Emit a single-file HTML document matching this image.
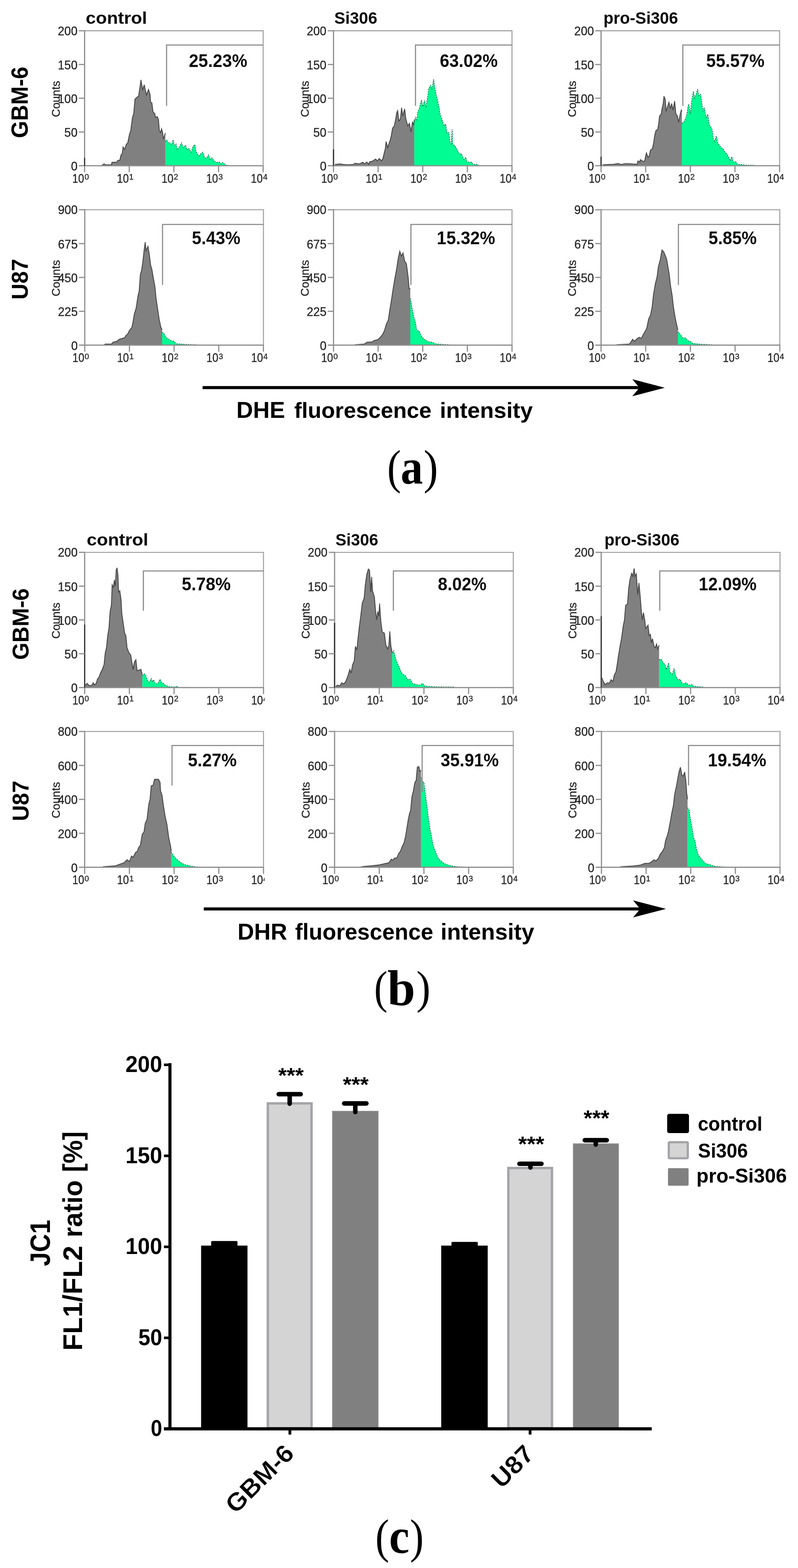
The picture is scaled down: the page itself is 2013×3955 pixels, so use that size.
<!DOCTYPE html>
<html lang="en"><head><meta charset="utf-8"><title>Figure</title>
<style>html,body{margin:0;padding:0;background:#fff}body{width:2013px;height:3955px;overflow:hidden}svg{display:block}</style>
</head><body>
<svg width="2013" height="3955" viewBox="0 0 2013 3955" font-family='"Liberation Sans", Arial, Helvetica, sans-serif'>
<defs><clipPath id="cl4"><rect x="-2" y="-30" width="6.2" height="40"/></clipPath></defs>
<rect width="2013" height="3955" fill="#fff"/>
<g>
<g id="p-a1">
<polygon points="256.4,417.5 256.4,417.4 262.5,413.4 265.6,415.5 280.9,415.5 282.4,409.4 294.6,408.8 297.6,404.3 302.2,404.3 305.3,390.5 308.3,387.5 310.5,370.7 314.4,376.8 319.0,363.1 322.0,361.5 326.6,338.7 329.7,329.5 334.2,295.9 337.3,286.8 340.4,250.2 344.9,245.6 349.5,242.5 352.6,222.7 355.6,201.4 358.7,219.7 360.2,225.8 363.8,213.6 366.9,228.8 369.3,239.5 374.5,225.8 378.5,238.0 380.0,257.8 383.1,259.3 386.1,282.2 390.7,286.8 392.2,295.9 396.8,294.4 399.8,302.0 402.0,329.5 405.0,334.1 407.5,324.9 410.5,335.6 412.1,350.9 417.2,335.6 417.2,335.6 417.2,417.5" fill="#808080"/>
<polyline points="256.4,417.4 262.5,413.4 265.6,415.5 280.9,415.5 282.4,409.4 294.6,408.8 297.6,404.3 302.2,404.3 305.3,390.5 308.3,387.5 310.5,370.7 314.4,376.8 319.0,363.1 322.0,361.5 326.6,338.7 329.7,329.5 334.2,295.9 337.3,286.8 340.4,250.2 344.9,245.6 349.5,242.5 352.6,222.7 355.6,201.4 358.7,219.7 360.2,225.8 363.8,213.6 366.9,228.8 369.3,239.5 374.5,225.8 378.5,238.0 380.0,257.8 383.1,259.3 386.1,282.2 390.7,286.8 392.2,295.9 396.8,294.4 399.8,302.0 402.0,329.5 405.0,334.1 407.5,324.9 410.5,335.6 412.1,350.9 417.2,335.6" fill="none" stroke="#2c2c2c" stroke-opacity="0.8" stroke-width="2.2" stroke-linejoin="miter"/>
<polygon points="417.2,417.5 417.2,357.0 420.3,352.4 425.8,361.5 428.8,360.0 433.4,366.1 436.5,352.4 439.5,366.1 444.1,363.1 447.1,378.3 453.2,369.2 457.8,360.0 462.4,372.2 468.5,366.1 471.5,378.3 476.1,373.7 482.2,384.4 486.8,369.2 491.4,364.6 494.4,381.4 497.5,387.5 502.1,393.6 506.6,387.5 511.8,383.8 515.8,396.6 520.4,399.7 525.9,390.5 529.5,401.2 534.7,398.2 538.7,404.3 544.8,409.4 553.9,408.8 557.0,413.4 561.6,409.4 566.1,413.4 570.7,416.5 578.3,417.4 578.3,417.5" fill="#00fc92"/>
<polyline points="417.2,357.0 420.3,352.4 425.8,361.5 428.8,360.0 433.4,366.1 436.5,352.4 439.5,366.1 444.1,363.1 447.1,378.3 453.2,369.2 457.8,360.0 462.4,372.2 468.5,366.1 471.5,378.3 476.1,373.7 482.2,384.4 486.8,369.2 491.4,364.6 494.4,381.4 497.5,387.5 502.1,393.6 506.6,387.5 511.8,383.8 515.8,396.6 520.4,399.7 525.9,390.5 529.5,401.2 534.7,398.2 538.7,404.3 544.8,409.4 553.9,408.8 557.0,413.4 561.6,409.4 566.1,413.4 570.7,416.5 578.3,417.4" fill="none" stroke="#08653f" stroke-width="1.7" stroke-dasharray="3 3"/>
<path d="M213.4 77.6H663.8V418" fill="none" stroke="#a2a2a2" stroke-width="2.6"/>
<path d="M213.4 418V76.2M198.9 418H665.2" fill="none" stroke="#8e8e8e" stroke-width="3"/>
<rect x="211.9" y="398.2" width="3" height="20.3" fill="#303030"/>
<path d="M198.9 77.6H213.4" stroke="#909090" stroke-width="3"/>
<text transform="translate(145.75 88.6) scale(0.9808 1)" font-size="30.43" fill="#262626" stroke="#262626" stroke-width="0.45">200</text>
<path d="M198.9 162.7H213.4" stroke="#909090" stroke-width="3"/>
<text transform="translate(145.75 174.8) scale(0.9808 1)" font-size="30.43" fill="#262626" stroke="#262626" stroke-width="0.45">150</text>
<path d="M198.9 247.8H213.4" stroke="#909090" stroke-width="3"/>
<text transform="translate(145.75 259.9) scale(0.9808 1)" font-size="30.43" fill="#262626" stroke="#262626" stroke-width="0.45">100</text>
<path d="M198.9 332.9H213.4" stroke="#909090" stroke-width="3"/>
<text transform="translate(162.37 345.0) scale(0.9808 1)" font-size="30.43" fill="#262626" stroke="#262626" stroke-width="0.45">50</text>
<text transform="translate(178.98 430.1) scale(0.9808 1)" font-size="30.43" fill="#262626" stroke="#262626" stroke-width="0.45">0</text>
<path d="M213.4 418V434.5" stroke="#909090" stroke-width="3"/>
<text fill="#262626" stroke="#262626" stroke-width="0.45"><tspan x="182.34" y="460.7" font-size="31.15" textLength="29.91" lengthAdjust="spacingAndGlyphs">10</tspan><tspan x="213.19" y="453.0" font-size="20.1" textLength="11.2" lengthAdjust="spacingAndGlyphs">0</tspan></text>
<path d="M326.0 418V434.5" stroke="#909090" stroke-width="3"/>
<text fill="#262626" stroke="#262626" stroke-width="0.45"><tspan x="294.94" y="460.7" font-size="31.15" textLength="29.91" lengthAdjust="spacingAndGlyphs">10</tspan><tspan x="325.79" y="453.0" font-size="20.1" textLength="11.2" lengthAdjust="spacingAndGlyphs">1</tspan></text>
<path d="M438.6 418V434.5" stroke="#909090" stroke-width="3"/>
<text fill="#262626" stroke="#262626" stroke-width="0.45"><tspan x="407.54" y="460.7" font-size="31.15" textLength="29.91" lengthAdjust="spacingAndGlyphs">10</tspan><tspan x="438.39" y="453.0" font-size="20.1" textLength="11.2" lengthAdjust="spacingAndGlyphs">2</tspan></text>
<path d="M551.2 418V434.5" stroke="#909090" stroke-width="3"/>
<text fill="#262626" stroke="#262626" stroke-width="0.45"><tspan x="520.14" y="460.7" font-size="31.15" textLength="29.91" lengthAdjust="spacingAndGlyphs">10</tspan><tspan x="550.99" y="453.0" font-size="20.1" textLength="11.2" lengthAdjust="spacingAndGlyphs">3</tspan></text>
<path d="M663.8 418V434.5" stroke="#909090" stroke-width="3"/>
<text fill="#262626" stroke="#262626" stroke-width="0.45"><tspan x="632.74" y="460.7" font-size="31.15" textLength="29.91" lengthAdjust="spacingAndGlyphs">10</tspan><tspan x="663.59" y="453.0" font-size="20.1" textLength="11.2" lengthAdjust="spacingAndGlyphs">4</tspan></text>
<text transform="translate(150.6 295.45) rotate(-90) scale(0.969 1)" font-size="29.86" fill="#262626" stroke="#262626" stroke-width="0.45">Counts</text>
<path d="M420.2 267V113.6H663.8" fill="none" stroke="#8a8a8a" stroke-width="2.8"/>
<text transform="translate(476.45 169.0) scale(0.9487 1)" font-size="45.79" font-weight="bold" fill="#0c0c0c">25.23%</text>
<text transform="translate(216.37 60.4) scale(1.0828 1)" font-size="42.17" font-weight="bold" fill="#0a0a0a">control</text>
</g>
<g id="p-a2">
<polygon points="844.6,417.5 844.6,414.9 857.5,413.4 866.6,414.9 875.8,415.5 891.0,414.9 895.6,411.9 906.3,413.4 915.4,409.4 920.0,413.4 925.2,408.8 930.7,414.3 932.2,408.2 939.8,406.4 947.5,401.2 952.0,405.8 956.6,399.7 962.7,405.8 965.8,399.7 968.8,387.5 971.9,375.3 974.0,357.0 978.0,372.2 981.0,363.1 984.1,353.9 987.1,341.7 990.2,323.4 994.8,317.3 997.8,302.0 1000.9,283.7 1003.0,279.2 1006.4,305.1 1010.0,300.5 1013.1,271.5 1016.1,292.9 1020.7,274.6 1023.7,299.0 1028.3,317.3 1032.9,311.2 1036.9,332.6 1040.5,308.1 1043.6,314.2 1045.1,302.0 1045.1,302.0 1045.1,417.5" fill="#808080"/>
<polyline points="844.6,414.9 857.5,413.4 866.6,414.9 875.8,415.5 891.0,414.9 895.6,411.9 906.3,413.4 915.4,409.4 920.0,413.4 925.2,408.8 930.7,414.3 932.2,408.2 939.8,406.4 947.5,401.2 952.0,405.8 956.6,399.7 962.7,405.8 965.8,399.7 968.8,387.5 971.9,375.3 974.0,357.0 978.0,372.2 981.0,363.1 984.1,353.9 987.1,341.7 990.2,323.4 994.8,317.3 997.8,302.0 1000.9,283.7 1003.0,279.2 1006.4,305.1 1010.0,300.5 1013.1,271.5 1016.1,292.9 1020.7,274.6 1023.7,299.0 1028.3,317.3 1032.9,311.2 1036.9,332.6 1040.5,308.1 1043.6,314.2 1045.1,302.0" fill="none" stroke="#2c2c2c" stroke-opacity="0.8" stroke-width="2.2" stroke-linejoin="miter"/>
<polygon points="1045.1,417.5 1045.1,308.1 1048.2,295.9 1051.2,302.0 1054.3,280.7 1057.3,274.6 1063.4,251.7 1066.5,268.5 1071.0,253.2 1074.1,271.5 1078.7,244.1 1081.7,222.7 1086.3,215.1 1089.3,225.8 1093.9,199.8 1097.0,222.7 1100.0,238.0 1104.6,256.3 1107.7,271.5 1110.7,289.8 1115.3,302.0 1119.9,317.3 1124.4,312.7 1127.5,335.6 1132.1,334.1 1135.1,357.0 1138.2,363.1 1140.6,326.5 1141.8,363.1 1147.3,367.6 1153.4,378.3 1159.5,389.0 1164.1,387.5 1170.2,402.7 1174.8,396.6 1177.8,407.3 1183.9,409.4 1190.0,408.8 1193.1,414.9 1203.8,414.3 1208.3,417.4 1208.3,417.5" fill="#00fc92"/>
<polyline points="1045.1,308.1 1048.2,295.9 1051.2,302.0 1054.3,280.7 1057.3,274.6 1063.4,251.7 1066.5,268.5 1071.0,253.2 1074.1,271.5 1078.7,244.1 1081.7,222.7 1086.3,215.1 1089.3,225.8 1093.9,199.8 1097.0,222.7 1100.0,238.0 1104.6,256.3 1107.7,271.5 1110.7,289.8 1115.3,302.0 1119.9,317.3 1124.4,312.7 1127.5,335.6 1132.1,334.1 1135.1,357.0 1138.2,363.1 1140.6,326.5 1141.8,363.1 1147.3,367.6 1153.4,378.3 1159.5,389.0 1164.1,387.5 1170.2,402.7 1174.8,396.6 1177.8,407.3 1183.9,409.4 1190.0,408.8 1193.1,414.9 1203.8,414.3 1208.3,417.4" fill="none" stroke="#08653f" stroke-width="1.7" stroke-dasharray="3 3"/>
<path d="M841.3 77.6H1291.5V418" fill="none" stroke="#a2a2a2" stroke-width="2.6"/>
<path d="M841.3 418V76.2M826.8 418H1292.9" fill="none" stroke="#8e8e8e" stroke-width="3"/>
<rect x="839.8" y="376.8" width="3" height="41.7" fill="#303030"/>
<path d="M826.8 77.6H841.3" stroke="#909090" stroke-width="3"/>
<text transform="translate(773.65 88.6) scale(0.9808 1)" font-size="30.43" fill="#262626" stroke="#262626" stroke-width="0.45">200</text>
<path d="M826.8 162.7H841.3" stroke="#909090" stroke-width="3"/>
<text transform="translate(773.65 174.8) scale(0.9808 1)" font-size="30.43" fill="#262626" stroke="#262626" stroke-width="0.45">150</text>
<path d="M826.8 247.8H841.3" stroke="#909090" stroke-width="3"/>
<text transform="translate(773.65 259.9) scale(0.9808 1)" font-size="30.43" fill="#262626" stroke="#262626" stroke-width="0.45">100</text>
<path d="M826.8 332.9H841.3" stroke="#909090" stroke-width="3"/>
<text transform="translate(790.27 345.0) scale(0.9808 1)" font-size="30.43" fill="#262626" stroke="#262626" stroke-width="0.45">50</text>
<text transform="translate(806.88 430.1) scale(0.9808 1)" font-size="30.43" fill="#262626" stroke="#262626" stroke-width="0.45">0</text>
<path d="M841.3 418V434.5" stroke="#909090" stroke-width="3"/>
<text fill="#262626" stroke="#262626" stroke-width="0.45"><tspan x="810.24" y="460.7" font-size="31.15" textLength="29.91" lengthAdjust="spacingAndGlyphs">10</tspan><tspan x="841.09" y="453.0" font-size="20.1" textLength="11.2" lengthAdjust="spacingAndGlyphs">0</tspan></text>
<path d="M953.85 418V434.5" stroke="#909090" stroke-width="3"/>
<text fill="#262626" stroke="#262626" stroke-width="0.45"><tspan x="922.79" y="460.7" font-size="31.15" textLength="29.91" lengthAdjust="spacingAndGlyphs">10</tspan><tspan x="953.64" y="453.0" font-size="20.1" textLength="11.2" lengthAdjust="spacingAndGlyphs">1</tspan></text>
<path d="M1066.4 418V434.5" stroke="#909090" stroke-width="3"/>
<text fill="#262626" stroke="#262626" stroke-width="0.45"><tspan x="1035.34" y="460.7" font-size="31.15" textLength="29.91" lengthAdjust="spacingAndGlyphs">10</tspan><tspan x="1066.19" y="453.0" font-size="20.1" textLength="11.2" lengthAdjust="spacingAndGlyphs">2</tspan></text>
<path d="M1178.95 418V434.5" stroke="#909090" stroke-width="3"/>
<text fill="#262626" stroke="#262626" stroke-width="0.45"><tspan x="1147.89" y="460.7" font-size="31.15" textLength="29.91" lengthAdjust="spacingAndGlyphs">10</tspan><tspan x="1178.74" y="453.0" font-size="20.1" textLength="11.2" lengthAdjust="spacingAndGlyphs">3</tspan></text>
<path d="M1291.5 418V434.5" stroke="#909090" stroke-width="3"/>
<text fill="#262626" stroke="#262626" stroke-width="0.45"><tspan x="1260.44" y="460.7" font-size="31.15" textLength="29.91" lengthAdjust="spacingAndGlyphs">10</tspan><tspan x="1291.29" y="453.0" font-size="20.1" textLength="11.2" lengthAdjust="spacingAndGlyphs">4</tspan></text>
<text transform="translate(778.5 295.45) rotate(-90) scale(0.969 1)" font-size="29.86" fill="#262626" stroke="#262626" stroke-width="0.45">Counts</text>
<path d="M1048.1 267V113.6H1291.5" fill="none" stroke="#8a8a8a" stroke-width="2.8"/>
<text transform="translate(1109.42 169.0) scale(0.9411 1)" font-size="45.79" font-weight="bold" fill="#0c0c0c">63.02%</text>
<text transform="translate(843.36 60.4) scale(0.9834 1)" font-size="42.17" font-weight="bold" fill="#0a0a0a">Si306</text>
</g>
<g id="p-a3">
<polygon points="1520.3,417.5 1520.3,415.5 1547.7,414.3 1559.9,412.5 1566.0,414.9 1578.2,412.5 1593.5,413.4 1607.2,414.3 1609.3,405.8 1613.3,408.8 1615.5,402.7 1622.5,407.3 1626.4,405.8 1628.6,393.6 1630.7,385.9 1634.7,396.6 1637.7,393.6 1640.8,378.3 1645.4,375.3 1648.4,363.1 1651.5,341.7 1654.5,329.5 1659.1,326.5 1662.1,308.1 1663.7,292.9 1668.2,286.8 1669.8,274.6 1672.8,262.4 1674.9,242.5 1678.3,251.7 1680.4,280.7 1685.0,265.4 1687.5,257.8 1691.1,274.6 1694.2,260.9 1697.8,277.6 1701.8,254.8 1704.8,286.8 1708.8,292.9 1711.9,308.1 1715.5,289.8 1718.6,277.6 1720.1,280.7 1720.1,280.7 1720.1,417.5" fill="#808080"/>
<polyline points="1520.3,415.5 1547.7,414.3 1559.9,412.5 1566.0,414.9 1578.2,412.5 1593.5,413.4 1607.2,414.3 1609.3,405.8 1613.3,408.8 1615.5,402.7 1622.5,407.3 1626.4,405.8 1628.6,393.6 1630.7,385.9 1634.7,396.6 1637.7,393.6 1640.8,378.3 1645.4,375.3 1648.4,363.1 1651.5,341.7 1654.5,329.5 1659.1,326.5 1662.1,308.1 1663.7,292.9 1668.2,286.8 1669.8,274.6 1672.8,262.4 1674.9,242.5 1678.3,251.7 1680.4,280.7 1685.0,265.4 1687.5,257.8 1691.1,274.6 1694.2,260.9 1697.8,277.6 1701.8,254.8 1704.8,286.8 1708.8,292.9 1711.9,308.1 1715.5,289.8 1718.6,277.6 1720.1,280.7" fill="none" stroke="#2c2c2c" stroke-opacity="0.8" stroke-width="2.2" stroke-linejoin="miter"/>
<polygon points="1720.1,417.5 1720.1,311.2 1724.7,308.1 1729.3,299.0 1732.3,289.8 1735.4,268.5 1737.5,262.4 1741.5,286.8 1744.5,256.3 1749.1,230.3 1752.1,247.1 1755.8,238.0 1759.8,224.2 1762.8,241.0 1767.4,238.0 1770.4,259.3 1773.5,280.7 1776.5,271.5 1781.1,295.9 1785.7,288.3 1788.8,314.2 1793.3,320.4 1796.4,326.5 1799.4,350.9 1802.5,355.4 1807.1,343.2 1810.1,360.0 1814.7,366.1 1819.3,372.2 1823.8,375.3 1828.4,382.9 1833.0,387.5 1837.6,395.1 1842.1,405.8 1846.1,395.1 1849.8,408.8 1855.9,407.3 1860.5,414.9 1871.1,414.9 1883.3,416.5 1905.0,416.8 1905.0,417.5" fill="#00fc92"/>
<polyline points="1720.1,311.2 1724.7,308.1 1729.3,299.0 1732.3,289.8 1735.4,268.5 1737.5,262.4 1741.5,286.8 1744.5,256.3 1749.1,230.3 1752.1,247.1 1755.8,238.0 1759.8,224.2 1762.8,241.0 1767.4,238.0 1770.4,259.3 1773.5,280.7 1776.5,271.5 1781.1,295.9 1785.7,288.3 1788.8,314.2 1793.3,320.4 1796.4,326.5 1799.4,350.9 1802.5,355.4 1807.1,343.2 1810.1,360.0 1814.7,366.1 1819.3,372.2 1823.8,375.3 1828.4,382.9 1833.0,387.5 1837.6,395.1 1842.1,405.8 1846.1,395.1 1849.8,408.8 1855.9,407.3 1860.5,414.9 1871.1,414.9 1883.3,416.5 1905.0,416.8" fill="none" stroke="#08653f" stroke-width="1.7" stroke-dasharray="3 3"/>
<path d="M1516.2 77.6H1966.6V418" fill="none" stroke="#a2a2a2" stroke-width="2.6"/>
<path d="M1516.2 418V76.2M1501.7 418H1968.0" fill="none" stroke="#8e8e8e" stroke-width="3"/>
<rect x="1514.7" y="395.1" width="3" height="23.4" fill="#303030"/>
<path d="M1501.7 77.6H1516.2" stroke="#909090" stroke-width="3"/>
<text transform="translate(1448.55 88.6) scale(0.9808 1)" font-size="30.43" fill="#262626" stroke="#262626" stroke-width="0.45">200</text>
<path d="M1501.7 162.7H1516.2" stroke="#909090" stroke-width="3"/>
<text transform="translate(1448.55 174.8) scale(0.9808 1)" font-size="30.43" fill="#262626" stroke="#262626" stroke-width="0.45">150</text>
<path d="M1501.7 247.8H1516.2" stroke="#909090" stroke-width="3"/>
<text transform="translate(1448.55 259.9) scale(0.9808 1)" font-size="30.43" fill="#262626" stroke="#262626" stroke-width="0.45">100</text>
<path d="M1501.7 332.9H1516.2" stroke="#909090" stroke-width="3"/>
<text transform="translate(1465.17 345.0) scale(0.9808 1)" font-size="30.43" fill="#262626" stroke="#262626" stroke-width="0.45">50</text>
<text transform="translate(1481.78 430.1) scale(0.9808 1)" font-size="30.43" fill="#262626" stroke="#262626" stroke-width="0.45">0</text>
<path d="M1516.2 418V434.5" stroke="#909090" stroke-width="3"/>
<text fill="#262626" stroke="#262626" stroke-width="0.45"><tspan x="1485.14" y="460.7" font-size="31.15" textLength="29.91" lengthAdjust="spacingAndGlyphs">10</tspan><tspan x="1515.99" y="453.0" font-size="20.1" textLength="11.2" lengthAdjust="spacingAndGlyphs">0</tspan></text>
<path d="M1628.8 418V434.5" stroke="#909090" stroke-width="3"/>
<text fill="#262626" stroke="#262626" stroke-width="0.45"><tspan x="1597.74" y="460.7" font-size="31.15" textLength="29.91" lengthAdjust="spacingAndGlyphs">10</tspan><tspan x="1628.59" y="453.0" font-size="20.1" textLength="11.2" lengthAdjust="spacingAndGlyphs">1</tspan></text>
<path d="M1741.4 418V434.5" stroke="#909090" stroke-width="3"/>
<text fill="#262626" stroke="#262626" stroke-width="0.45"><tspan x="1710.34" y="460.7" font-size="31.15" textLength="29.91" lengthAdjust="spacingAndGlyphs">10</tspan><tspan x="1741.19" y="453.0" font-size="20.1" textLength="11.2" lengthAdjust="spacingAndGlyphs">2</tspan></text>
<path d="M1854.0 418V434.5" stroke="#909090" stroke-width="3"/>
<text fill="#262626" stroke="#262626" stroke-width="0.45"><tspan x="1822.94" y="460.7" font-size="31.15" textLength="29.91" lengthAdjust="spacingAndGlyphs">10</tspan><tspan x="1853.79" y="453.0" font-size="20.1" textLength="11.2" lengthAdjust="spacingAndGlyphs">3</tspan></text>
<path d="M1966.6 418V434.5" stroke="#909090" stroke-width="3"/>
<text fill="#262626" stroke="#262626" stroke-width="0.45"><tspan x="1935.54" y="460.7" font-size="31.15" textLength="29.91" lengthAdjust="spacingAndGlyphs">10</tspan><tspan x="1966.39" y="453.0" font-size="20.1" textLength="11.2" lengthAdjust="spacingAndGlyphs">4</tspan></text>
<text transform="translate(1453.4 295.45) rotate(-90) scale(0.969 1)" font-size="29.86" fill="#262626" stroke="#262626" stroke-width="0.45">Counts</text>
<path d="M1722.5 267V113.6H1966.6" fill="none" stroke="#8a8a8a" stroke-width="2.8"/>
<text transform="translate(1781.6 168.6) scale(0.9451 1)" font-size="45.79" font-weight="bold" fill="#0c0c0c">55.57%</text>
<text transform="translate(1522.35 60.4) scale(0.9793 1)" font-size="42.17" font-weight="bold" fill="#0a0a0a">pro-Si306</text>
</g>
<g id="p-a4">
<polygon points="262.5,870.1 262.5,870.0 265.6,867.9 280.9,867.9 285.4,863.0 294.6,860.9 300.7,855.7 314.4,851.7 317.5,846.5 322.0,842.6 326.6,833.4 332.7,825.8 335.8,810.5 338.8,792.2 343.4,777.0 348.0,746.5 351.0,734.2 354.1,691.5 357.1,682.4 360.2,661.0 363.2,633.6 366.3,610.7 368.4,632.0 373.3,621.4 376.4,639.7 380.0,668.6 383.1,679.3 386.7,700.7 390.7,722.0 393.7,752.6 398.3,783.1 401.4,804.4 405.9,825.8 409.0,831.9 409.0,831.9 409.0,870.1" fill="#808080"/>
<polyline points="262.5,870.0 265.6,867.9 280.9,867.9 285.4,863.0 294.6,860.9 300.7,855.7 314.4,851.7 317.5,846.5 322.0,842.6 326.6,833.4 332.7,825.8 335.8,810.5 338.8,792.2 343.4,777.0 348.0,746.5 351.0,734.2 354.1,691.5 357.1,682.4 360.2,661.0 363.2,633.6 366.3,610.7 368.4,632.0 373.3,621.4 376.4,639.7 380.0,668.6 383.1,679.3 386.7,700.7 390.7,722.0 393.7,752.6 398.3,783.1 401.4,804.4 405.9,825.8 409.0,831.9" fill="none" stroke="#2c2c2c" stroke-opacity="0.8" stroke-width="2.2" stroke-linejoin="miter"/>
<polygon points="409.0,870.1 409.0,838.0 413.6,841.0 418.2,850.2 424.3,854.8 431.9,859.3 439.5,860.9 444.1,867.0 468.5,868.5 496.0,869.4 496.0,870.1" fill="#00fc92"/>
<polyline points="409.0,838.0 413.6,841.0 418.2,850.2 424.3,854.8 431.9,859.3 439.5,860.9 444.1,867.0 468.5,868.5 496.0,869.4" fill="none" stroke="#08653f" stroke-width="1.7" stroke-dasharray="3 3"/>
<path d="M213.8 529H664.5V870.6" fill="none" stroke="#a2a2a2" stroke-width="2.6"/>
<path d="M213.8 870.6V527.6M199.3 870.6H665.9" fill="none" stroke="#8e8e8e" stroke-width="3"/>
<path d="M199.3 529.0H213.8" stroke="#909090" stroke-width="3"/>
<text transform="translate(146.15 540.0) scale(0.9808 1)" font-size="30.43" fill="#262626" stroke="#262626" stroke-width="0.45">900</text>
<path d="M199.3 614.4H213.8" stroke="#909090" stroke-width="3"/>
<text transform="translate(146.25 626.5) scale(0.9808 1)" font-size="30.43" fill="#262626" stroke="#262626" stroke-width="0.45">675</text>
<path d="M199.3 699.8H213.8" stroke="#909090" stroke-width="3"/>
<text transform="translate(146.15 711.9) scale(0.9808 1)" font-size="30.43" fill="#262626" stroke="#262626" stroke-width="0.45">450</text>
<path d="M199.3 785.2H213.8" stroke="#909090" stroke-width="3"/>
<text transform="translate(146.25 797.3) scale(0.9808 1)" font-size="30.43" fill="#262626" stroke="#262626" stroke-width="0.45">225</text>
<text transform="translate(179.38 882.7) scale(0.9808 1)" font-size="30.43" fill="#262626" stroke="#262626" stroke-width="0.45">0</text>
<path d="M213.8 870.6V887.1" stroke="#909090" stroke-width="3"/>
<text fill="#262626" stroke="#262626" stroke-width="0.45"><tspan x="182.74" y="913.3" font-size="31.15" textLength="29.91" lengthAdjust="spacingAndGlyphs">10</tspan><tspan x="213.59" y="905.6" font-size="20.1" textLength="11.2" lengthAdjust="spacingAndGlyphs">0</tspan></text>
<path d="M326.48 870.6V887.1" stroke="#909090" stroke-width="3"/>
<text fill="#262626" stroke="#262626" stroke-width="0.45"><tspan x="295.41" y="913.3" font-size="31.15" textLength="29.91" lengthAdjust="spacingAndGlyphs">10</tspan><tspan x="326.27" y="905.6" font-size="20.1" textLength="11.2" lengthAdjust="spacingAndGlyphs">1</tspan></text>
<path d="M439.15 870.6V887.1" stroke="#909090" stroke-width="3"/>
<text fill="#262626" stroke="#262626" stroke-width="0.45"><tspan x="408.09" y="913.3" font-size="31.15" textLength="29.91" lengthAdjust="spacingAndGlyphs">10</tspan><tspan x="438.94" y="905.6" font-size="20.1" textLength="11.2" lengthAdjust="spacingAndGlyphs">2</tspan></text>
<path d="M551.83 870.6V887.1" stroke="#909090" stroke-width="3"/>
<text fill="#262626" stroke="#262626" stroke-width="0.45"><tspan x="520.76" y="913.3" font-size="31.15" textLength="29.91" lengthAdjust="spacingAndGlyphs">10</tspan><tspan x="551.62" y="905.6" font-size="20.1" textLength="11.2" lengthAdjust="spacingAndGlyphs">3</tspan></text>
<path d="M664.5 870.6V887.1" stroke="#909090" stroke-width="3"/>
<text fill="#262626" stroke="#262626" stroke-width="0.45"><tspan x="633.44" y="913.3" font-size="31.15" textLength="29.91" lengthAdjust="spacingAndGlyphs">10</tspan><tspan x="664.29" y="905.6" font-size="20.1" textLength="11.2" lengthAdjust="spacingAndGlyphs">4</tspan></text>
<text transform="translate(151.0 747.45) rotate(-90) scale(0.969 1)" font-size="29.86" fill="#262626" stroke="#262626" stroke-width="0.45">Counts</text>
<path d="M410 718.7V566.2H664.5" fill="none" stroke="#8a8a8a" stroke-width="2.8"/>
<text transform="translate(484.01 615.8) scale(0.9427 1)" font-size="45.79" font-weight="bold" fill="#0c0c0c">5.43%</text>
</g>
<g id="p-a5">
<polygon points="895.6,870.1 895.6,869.4 918.5,867.9 926.1,863.0 938.3,862.4 944.4,858.7 953.6,856.3 959.7,850.2 965.8,842.6 970.4,831.9 974.9,816.6 979.5,807.5 982.6,786.1 987.1,758.7 991.7,728.1 996.3,700.7 1000.9,676.3 1003.9,654.9 1008.5,633.6 1012.5,645.8 1016.7,638.1 1020.7,658.0 1025.3,665.6 1029.8,700.7 1032.0,728.1 1035.0,728.1 1035.0,728.1 1035.0,870.1" fill="#808080"/>
<polyline points="895.6,869.4 918.5,867.9 926.1,863.0 938.3,862.4 944.4,858.7 953.6,856.3 959.7,850.2 965.8,842.6 970.4,831.9 974.9,816.6 979.5,807.5 982.6,786.1 987.1,758.7 991.7,728.1 996.3,700.7 1000.9,676.3 1003.9,654.9 1008.5,633.6 1012.5,645.8 1016.7,638.1 1020.7,658.0 1025.3,665.6 1029.8,700.7 1032.0,728.1 1035.0,728.1" fill="none" stroke="#2c2c2c" stroke-opacity="0.8" stroke-width="2.2" stroke-linejoin="miter"/>
<polygon points="1035.0,870.1 1035.0,752.6 1039.0,773.9 1043.6,798.3 1048.2,813.6 1051.2,833.4 1057.3,834.9 1063.4,848.7 1071.0,856.3 1080.2,861.8 1089.3,863.0 1098.5,867.0 1113.8,868.5 1135.1,869.4 1135.1,870.1" fill="#00fc92"/>
<polyline points="1035.0,752.6 1039.0,773.9 1043.6,798.3 1048.2,813.6 1051.2,833.4 1057.3,834.9 1063.4,848.7 1071.0,856.3 1080.2,861.8 1089.3,863.0 1098.5,867.0 1113.8,868.5 1135.1,869.4" fill="none" stroke="#08653f" stroke-width="1.7" stroke-dasharray="3 3"/>
<path d="M841.3 529H1291.6V870.6" fill="none" stroke="#a2a2a2" stroke-width="2.6"/>
<path d="M841.3 870.6V527.6M826.8 870.6H1293.0" fill="none" stroke="#8e8e8e" stroke-width="3"/>
<path d="M826.8 529.0H841.3" stroke="#909090" stroke-width="3"/>
<text transform="translate(773.65 540.0) scale(0.9808 1)" font-size="30.43" fill="#262626" stroke="#262626" stroke-width="0.45">900</text>
<path d="M826.8 614.4H841.3" stroke="#909090" stroke-width="3"/>
<text transform="translate(773.75 626.5) scale(0.9808 1)" font-size="30.43" fill="#262626" stroke="#262626" stroke-width="0.45">675</text>
<path d="M826.8 699.8H841.3" stroke="#909090" stroke-width="3"/>
<text transform="translate(773.65 711.9) scale(0.9808 1)" font-size="30.43" fill="#262626" stroke="#262626" stroke-width="0.45">450</text>
<path d="M826.8 785.2H841.3" stroke="#909090" stroke-width="3"/>
<text transform="translate(773.75 797.3) scale(0.9808 1)" font-size="30.43" fill="#262626" stroke="#262626" stroke-width="0.45">225</text>
<text transform="translate(806.88 882.7) scale(0.9808 1)" font-size="30.43" fill="#262626" stroke="#262626" stroke-width="0.45">0</text>
<path d="M841.3 870.6V887.1" stroke="#909090" stroke-width="3"/>
<text fill="#262626" stroke="#262626" stroke-width="0.45"><tspan x="810.24" y="913.3" font-size="31.15" textLength="29.91" lengthAdjust="spacingAndGlyphs">10</tspan><tspan x="841.09" y="905.6" font-size="20.1" textLength="11.2" lengthAdjust="spacingAndGlyphs">0</tspan></text>
<path d="M953.88 870.6V887.1" stroke="#909090" stroke-width="3"/>
<text fill="#262626" stroke="#262626" stroke-width="0.45"><tspan x="922.81" y="913.3" font-size="31.15" textLength="29.91" lengthAdjust="spacingAndGlyphs">10</tspan><tspan x="953.67" y="905.6" font-size="20.1" textLength="11.2" lengthAdjust="spacingAndGlyphs">1</tspan></text>
<path d="M1066.45 870.6V887.1" stroke="#909090" stroke-width="3"/>
<text fill="#262626" stroke="#262626" stroke-width="0.45"><tspan x="1035.39" y="913.3" font-size="31.15" textLength="29.91" lengthAdjust="spacingAndGlyphs">10</tspan><tspan x="1066.24" y="905.6" font-size="20.1" textLength="11.2" lengthAdjust="spacingAndGlyphs">2</tspan></text>
<path d="M1179.02 870.6V887.1" stroke="#909090" stroke-width="3"/>
<text fill="#262626" stroke="#262626" stroke-width="0.45"><tspan x="1147.96" y="913.3" font-size="31.15" textLength="29.91" lengthAdjust="spacingAndGlyphs">10</tspan><tspan x="1178.82" y="905.6" font-size="20.1" textLength="11.2" lengthAdjust="spacingAndGlyphs">3</tspan></text>
<path d="M1291.6 870.6V887.1" stroke="#909090" stroke-width="3"/>
<text fill="#262626" stroke="#262626" stroke-width="0.45"><tspan x="1260.54" y="913.3" font-size="31.15" textLength="29.91" lengthAdjust="spacingAndGlyphs">10</tspan><tspan x="1291.39" y="905.6" font-size="20.1" textLength="11.2" lengthAdjust="spacingAndGlyphs">4</tspan></text>
<text transform="translate(778.5 747.45) rotate(-90) scale(0.969 1)" font-size="29.86" fill="#262626" stroke="#262626" stroke-width="0.45">Counts</text>
<path d="M1036.6 718.7V566.2H1291.6" fill="none" stroke="#8a8a8a" stroke-width="2.8"/>
<text transform="translate(1101.85 615.8) scale(0.9474 1)" font-size="45.79" font-weight="bold" fill="#0c0c0c">15.32%</text>
</g>
<g id="p-a6">
<polygon points="1555.3,870.1 1555.3,869.4 1587.4,867.9 1592.0,861.8 1595.9,855.7 1600.2,860.9 1605.7,855.7 1611.8,850.8 1617.9,853.2 1622.5,844.1 1627.0,836.5 1631.6,827.3 1636.2,804.4 1640.8,795.3 1644.7,777.0 1648.4,743.4 1653.0,715.9 1657.6,697.6 1660.6,673.2 1665.2,656.4 1669.8,630.5 1674.3,635.1 1678.9,645.8 1682.0,654.9 1685.0,673.2 1688.1,691.5 1691.7,722.0 1695.7,746.5 1698.7,773.9 1703.3,801.4 1706.4,816.6 1710.0,831.9 1710.0,831.9 1710.0,870.1" fill="#808080"/>
<polyline points="1555.3,869.4 1587.4,867.9 1592.0,861.8 1595.9,855.7 1600.2,860.9 1605.7,855.7 1611.8,850.8 1617.9,853.2 1622.5,844.1 1627.0,836.5 1631.6,827.3 1636.2,804.4 1640.8,795.3 1644.7,777.0 1648.4,743.4 1653.0,715.9 1657.6,697.6 1660.6,673.2 1665.2,656.4 1669.8,630.5 1674.3,635.1 1678.9,645.8 1682.0,654.9 1685.0,673.2 1688.1,691.5 1691.7,722.0 1695.7,746.5 1698.7,773.9 1703.3,801.4 1706.4,816.6 1710.0,831.9" fill="none" stroke="#2c2c2c" stroke-opacity="0.8" stroke-width="2.2" stroke-linejoin="miter"/>
<polygon points="1710.0,870.1 1710.0,836.5 1715.5,842.6 1721.6,851.7 1729.3,852.6 1735.4,859.3 1741.5,860.9 1747.6,866.1 1764.3,867.9 1796.4,869.4 1796.4,870.1" fill="#00fc92"/>
<polyline points="1710.0,836.5 1715.5,842.6 1721.6,851.7 1729.3,852.6 1735.4,859.3 1741.5,860.9 1747.6,866.1 1764.3,867.9 1796.4,869.4" fill="none" stroke="#08653f" stroke-width="1.7" stroke-dasharray="3 3"/>
<path d="M1516.2 529H1967V870.6" fill="none" stroke="#a2a2a2" stroke-width="2.6"/>
<path d="M1516.2 870.6V527.6M1501.7 870.6H1968.4" fill="none" stroke="#8e8e8e" stroke-width="3"/>
<path d="M1501.7 529.0H1516.2" stroke="#909090" stroke-width="3"/>
<text transform="translate(1448.55 540.0) scale(0.9808 1)" font-size="30.43" fill="#262626" stroke="#262626" stroke-width="0.45">900</text>
<path d="M1501.7 614.4H1516.2" stroke="#909090" stroke-width="3"/>
<text transform="translate(1448.65 626.5) scale(0.9808 1)" font-size="30.43" fill="#262626" stroke="#262626" stroke-width="0.45">675</text>
<path d="M1501.7 699.8H1516.2" stroke="#909090" stroke-width="3"/>
<text transform="translate(1448.55 711.9) scale(0.9808 1)" font-size="30.43" fill="#262626" stroke="#262626" stroke-width="0.45">450</text>
<path d="M1501.7 785.2H1516.2" stroke="#909090" stroke-width="3"/>
<text transform="translate(1448.65 797.3) scale(0.9808 1)" font-size="30.43" fill="#262626" stroke="#262626" stroke-width="0.45">225</text>
<text transform="translate(1481.78 882.7) scale(0.9808 1)" font-size="30.43" fill="#262626" stroke="#262626" stroke-width="0.45">0</text>
<path d="M1516.2 870.6V887.1" stroke="#909090" stroke-width="3"/>
<text fill="#262626" stroke="#262626" stroke-width="0.45"><tspan x="1485.14" y="913.3" font-size="31.15" textLength="29.91" lengthAdjust="spacingAndGlyphs">10</tspan><tspan x="1515.99" y="905.6" font-size="20.1" textLength="11.2" lengthAdjust="spacingAndGlyphs">0</tspan></text>
<path d="M1628.9 870.6V887.1" stroke="#909090" stroke-width="3"/>
<text fill="#262626" stroke="#262626" stroke-width="0.45"><tspan x="1597.84" y="913.3" font-size="31.15" textLength="29.91" lengthAdjust="spacingAndGlyphs">10</tspan><tspan x="1628.69" y="905.6" font-size="20.1" textLength="11.2" lengthAdjust="spacingAndGlyphs">1</tspan></text>
<path d="M1741.6 870.6V887.1" stroke="#909090" stroke-width="3"/>
<text fill="#262626" stroke="#262626" stroke-width="0.45"><tspan x="1710.54" y="913.3" font-size="31.15" textLength="29.91" lengthAdjust="spacingAndGlyphs">10</tspan><tspan x="1741.39" y="905.6" font-size="20.1" textLength="11.2" lengthAdjust="spacingAndGlyphs">2</tspan></text>
<path d="M1854.3 870.6V887.1" stroke="#909090" stroke-width="3"/>
<text fill="#262626" stroke="#262626" stroke-width="0.45"><tspan x="1823.24" y="913.3" font-size="31.15" textLength="29.91" lengthAdjust="spacingAndGlyphs">10</tspan><tspan x="1854.09" y="905.6" font-size="20.1" textLength="11.2" lengthAdjust="spacingAndGlyphs">3</tspan></text>
<path d="M1967.0 870.6V887.1" stroke="#909090" stroke-width="3"/>
<text fill="#262626" stroke="#262626" stroke-width="0.45"><tspan x="1935.94" y="913.3" font-size="31.15" textLength="29.91" lengthAdjust="spacingAndGlyphs">10</tspan><tspan x="1966.79" y="905.6" font-size="20.1" textLength="11.2" lengthAdjust="spacingAndGlyphs">4</tspan></text>
<text transform="translate(1453.4 747.45) rotate(-90) scale(0.969 1)" font-size="29.86" fill="#262626" stroke="#262626" stroke-width="0.45">Counts</text>
<path d="M1711.3 718.7V566.2H1967" fill="none" stroke="#8a8a8a" stroke-width="2.8"/>
<text transform="translate(1787.31 615.8) scale(0.9372 1)" font-size="45.79" font-weight="bold" fill="#0c0c0c">5.85%</text>
</g>
<text transform="translate(69.8 348.24) rotate(-90) scale(0.9551 1)" font-size="58.56" font-weight="bold">GBM-6</text>
<text transform="translate(69.6 755.67) rotate(-90) scale(0.9728 1)" font-size="57.7" font-weight="bold">U87</text>
<path d="M511 977.7H1620" stroke="#000" stroke-width="7.7"/>
<path d="M1677 977.9L1595 956.5L1613 977.9L1595 999.5Z" fill="#000"/>
<text><tspan x="596.33" y="1053.8" font-size="57.23" textLength="122.68" lengthAdjust="spacingAndGlyphs" font-weight="bold">DHE</tspan> <tspan x="742.27" y="1053.8" font-size="56.41" textLength="346.07" lengthAdjust="spacingAndGlyphs" font-weight="bold">fluorescence</tspan> <tspan x="1109.41" y="1053.8" font-size="56.41" textLength="234.58" lengthAdjust="spacingAndGlyphs" font-weight="bold">intensity</tspan></text>
<text><tspan x="976.68" y="1218.7" font-size="121.73" textLength="34.77" lengthAdjust="spacingAndGlyphs" font-family='"Liberation Serif", "Times New Roman", serif'>(</tspan><tspan x="1010.66" y="1220.1" font-size="125.11" textLength="56.03" lengthAdjust="spacingAndGlyphs" font-weight="bold" font-family='"Liberation Serif", "Times New Roman", serif'>a</tspan><tspan x="1068.45" y="1218.7" font-size="121.73" textLength="36.46" lengthAdjust="spacingAndGlyphs" font-family='"Liberation Serif", "Times New Roman", serif'>)</tspan></text>
<g id="p-b1">
<polygon points="215.3,1733.7 215.3,1728.2 219.8,1723.6 224.4,1728.8 230.5,1729.7 235.1,1722.1 238.1,1727.6 242.7,1723.6 245.8,1712.9 250.3,1706.8 253.4,1697.7 258.0,1688.5 262.5,1676.3 265.6,1645.8 268.6,1633.6 271.7,1603.1 274.8,1584.8 277.8,1542.0 280.9,1526.8 283.0,1474.9 286.3,1481.0 288.5,1462.7 290.9,1478.0 293.1,1438.3 295.2,1432.2 297.6,1450.5 299.2,1493.2 302.2,1490.2 305.3,1511.5 307.4,1548.1 311.4,1575.6 314.4,1597.0 317.5,1603.1 320.5,1633.6 325.1,1645.8 329.7,1651.9 332.7,1670.2 335.8,1688.5 338.8,1670.2 342.8,1664.1 345.8,1691.5 351.0,1690.0 355.6,1688.5 358.7,1700.7 359.3,1700.7 359.3,1733.7" fill="#808080"/>
<polyline points="215.3,1728.2 219.8,1723.6 224.4,1728.8 230.5,1729.7 235.1,1722.1 238.1,1727.6 242.7,1723.6 245.8,1712.9 250.3,1706.8 253.4,1697.7 258.0,1688.5 262.5,1676.3 265.6,1645.8 268.6,1633.6 271.7,1603.1 274.8,1584.8 277.8,1542.0 280.9,1526.8 283.0,1474.9 286.3,1481.0 288.5,1462.7 290.9,1478.0 293.1,1438.3 295.2,1432.2 297.6,1450.5 299.2,1493.2 302.2,1490.2 305.3,1511.5 307.4,1548.1 311.4,1575.6 314.4,1597.0 317.5,1603.1 320.5,1633.6 325.1,1645.8 329.7,1651.9 332.7,1670.2 335.8,1688.5 338.8,1670.2 342.8,1664.1 345.8,1691.5 351.0,1690.0 355.6,1688.5 358.7,1700.7" fill="none" stroke="#2c2c2c" stroke-opacity="0.8" stroke-width="2.2" stroke-linejoin="miter"/>
<polygon points="359.3,1733.7 359.3,1703.8 364.1,1699.2 367.8,1703.8 372.4,1717.5 377.0,1720.5 381.5,1711.4 384.6,1720.5 387.6,1714.4 392.2,1725.1 398.3,1723.6 403.8,1712.9 407.5,1722.1 412.1,1723.6 416.6,1728.2 425.8,1731.8 438.0,1732.7 447.1,1731.2 450.2,1732.7 450.2,1733.7" fill="#00fc92"/>
<polyline points="359.3,1703.8 364.1,1699.2 367.8,1703.8 372.4,1717.5 377.0,1720.5 381.5,1711.4 384.6,1720.5 387.6,1714.4 392.2,1725.1 398.3,1723.6 403.8,1712.9 407.5,1722.1 412.1,1723.6 416.6,1728.2 425.8,1731.8 438.0,1732.7 447.1,1731.2 450.2,1732.7" fill="none" stroke="#08653f" stroke-width="1.7" stroke-dasharray="3 3"/>
<path d="M213.6 1393.2H664.7V1734.2" fill="none" stroke="#a2a2a2" stroke-width="2.6"/>
<path d="M213.6 1734.2V1391.8M199.1 1734.2H666.1" fill="none" stroke="#8e8e8e" stroke-width="3"/>
<rect x="212.1" y="1575.6" width="3" height="159.1" fill="#303030"/>
<path d="M199.1 1393.2H213.6" stroke="#909090" stroke-width="3"/>
<text transform="translate(145.95 1404.2) scale(0.9808 1)" font-size="30.43" fill="#262626" stroke="#262626" stroke-width="0.45">200</text>
<path d="M199.1 1478.45H213.6" stroke="#909090" stroke-width="3"/>
<text transform="translate(145.95 1490.55) scale(0.9808 1)" font-size="30.43" fill="#262626" stroke="#262626" stroke-width="0.45">150</text>
<path d="M199.1 1563.7H213.6" stroke="#909090" stroke-width="3"/>
<text transform="translate(145.95 1575.8) scale(0.9808 1)" font-size="30.43" fill="#262626" stroke="#262626" stroke-width="0.45">100</text>
<path d="M199.1 1648.95H213.6" stroke="#909090" stroke-width="3"/>
<text transform="translate(162.57 1661.05) scale(0.9808 1)" font-size="30.43" fill="#262626" stroke="#262626" stroke-width="0.45">50</text>
<text transform="translate(179.18 1746.3) scale(0.9808 1)" font-size="30.43" fill="#262626" stroke="#262626" stroke-width="0.45">0</text>
<path d="M213.6 1734.2V1750.7" stroke="#909090" stroke-width="3"/>
<text fill="#262626" stroke="#262626" stroke-width="0.45"><tspan x="182.54" y="1776.9" font-size="31.15" textLength="29.91" lengthAdjust="spacingAndGlyphs">10</tspan><tspan x="213.39" y="1769.2" font-size="20.1" textLength="11.2" lengthAdjust="spacingAndGlyphs">0</tspan></text>
<path d="M326.38 1734.2V1750.7" stroke="#909090" stroke-width="3"/>
<text fill="#262626" stroke="#262626" stroke-width="0.45"><tspan x="295.31" y="1776.9" font-size="31.15" textLength="29.91" lengthAdjust="spacingAndGlyphs">10</tspan><tspan x="326.17" y="1769.2" font-size="20.1" textLength="11.2" lengthAdjust="spacingAndGlyphs">1</tspan></text>
<path d="M439.15 1734.2V1750.7" stroke="#909090" stroke-width="3"/>
<text fill="#262626" stroke="#262626" stroke-width="0.45"><tspan x="408.09" y="1776.9" font-size="31.15" textLength="29.91" lengthAdjust="spacingAndGlyphs">10</tspan><tspan x="438.94" y="1769.2" font-size="20.1" textLength="11.2" lengthAdjust="spacingAndGlyphs">2</tspan></text>
<path d="M551.93 1734.2V1750.7" stroke="#909090" stroke-width="3"/>
<text fill="#262626" stroke="#262626" stroke-width="0.45"><tspan x="520.86" y="1776.9" font-size="31.15" textLength="29.91" lengthAdjust="spacingAndGlyphs">10</tspan><tspan x="551.72" y="1769.2" font-size="20.1" textLength="11.2" lengthAdjust="spacingAndGlyphs">3</tspan></text>
<path d="M664.7 1734.2V1750.7" stroke="#909090" stroke-width="3"/>
<text fill="#262626" stroke="#262626" stroke-width="0.45"><tspan x="633.64" y="1776.9" font-size="31.15" textLength="29.91" lengthAdjust="spacingAndGlyphs">10</tspan></text>
<text transform="translate(664.1 1770.2) scale(0.93 1)" font-size="20" fill="#262626" stroke="#262626" stroke-width="0.3" clip-path="url(#cl4)">4</text>
<text transform="translate(150.8 1611.35) rotate(-90) scale(0.969 1)" font-size="29.86" fill="#262626" stroke="#262626" stroke-width="0.45">Counts</text>
<path d="M361.7 1540.5V1440.2H664.7" fill="none" stroke="#8a8a8a" stroke-width="2.8"/>
<text transform="translate(458.39 1489.2) scale(0.9529 1)" font-size="45.79" font-weight="bold" fill="#0c0c0c">5.78%</text>
<text transform="translate(218.67 1375.7) scale(1.0772 1)" font-size="42.58" font-weight="bold" fill="#0a0a0a">control</text>
</g>
<g id="p-b2">
<polygon points="846.8,1733.7 846.8,1731.2 851.4,1728.2 857.5,1729.7 862.0,1722.1 866.6,1725.1 871.2,1720.5 875.8,1709.9 878.8,1700.7 882.5,1688.5 885.5,1697.7 889.5,1676.3 893.5,1667.1 896.5,1630.5 900.2,1639.7 903.2,1609.2 906.3,1581.7 909.9,1554.2 913.9,1520.7 918.5,1508.5 921.5,1474.9 925.2,1449.0 929.2,1435.3 932.2,1438.3 935.3,1493.2 937.4,1455.1 939.8,1490.2 944.4,1505.4 947.5,1542.0 950.5,1563.4 953.0,1542.0 955.7,1554.2 957.5,1522.2 960.6,1566.5 964.2,1593.9 969.7,1597.0 973.4,1627.5 978.0,1636.6 981.0,1627.5 983.2,1592.4 986.2,1630.5 989.3,1645.8 989.3,1645.8 989.3,1733.7" fill="#808080"/>
<polyline points="846.8,1731.2 851.4,1728.2 857.5,1729.7 862.0,1722.1 866.6,1725.1 871.2,1720.5 875.8,1709.9 878.8,1700.7 882.5,1688.5 885.5,1697.7 889.5,1676.3 893.5,1667.1 896.5,1630.5 900.2,1639.7 903.2,1609.2 906.3,1581.7 909.9,1554.2 913.9,1520.7 918.5,1508.5 921.5,1474.9 925.2,1449.0 929.2,1435.3 932.2,1438.3 935.3,1493.2 937.4,1455.1 939.8,1490.2 944.4,1505.4 947.5,1542.0 950.5,1563.4 953.0,1542.0 955.7,1554.2 957.5,1522.2 960.6,1566.5 964.2,1593.9 969.7,1597.0 973.4,1627.5 978.0,1636.6 981.0,1627.5 983.2,1592.4 986.2,1630.5 989.3,1645.8" fill="none" stroke="#2c2c2c" stroke-opacity="0.8" stroke-width="2.2" stroke-linejoin="miter"/>
<polygon points="989.3,1733.7 989.3,1647.3 993.2,1641.2 997.8,1661.0 1002.4,1673.2 1007.0,1682.4 1011.5,1694.6 1016.1,1700.7 1022.2,1703.8 1028.3,1714.4 1034.4,1712.9 1040.5,1723.6 1049.7,1726.6 1058.8,1728.2 1066.5,1723.6 1069.5,1729.7 1080.2,1731.2 1104.6,1732.4 1147.3,1732.7 1147.3,1733.7" fill="#00fc92"/>
<polyline points="989.3,1647.3 993.2,1641.2 997.8,1661.0 1002.4,1673.2 1007.0,1682.4 1011.5,1694.6 1016.1,1700.7 1022.2,1703.8 1028.3,1714.4 1034.4,1712.9 1040.5,1723.6 1049.7,1726.6 1058.8,1728.2 1066.5,1723.6 1069.5,1729.7 1080.2,1731.2 1104.6,1732.4 1147.3,1732.7" fill="none" stroke="#08653f" stroke-width="1.7" stroke-dasharray="3 3"/>
<path d="M844 1393.2H1294.8V1734.2" fill="none" stroke="#a2a2a2" stroke-width="2.6"/>
<path d="M844 1734.2V1391.8M829.5 1734.2H1296.2" fill="none" stroke="#8e8e8e" stroke-width="3"/>
<rect x="842.5" y="1571.0" width="3" height="163.7" fill="#303030"/>
<path d="M829.5 1393.2H844" stroke="#909090" stroke-width="3"/>
<text transform="translate(776.35 1404.2) scale(0.9808 1)" font-size="30.43" fill="#262626" stroke="#262626" stroke-width="0.45">200</text>
<path d="M829.5 1478.45H844" stroke="#909090" stroke-width="3"/>
<text transform="translate(776.35 1490.55) scale(0.9808 1)" font-size="30.43" fill="#262626" stroke="#262626" stroke-width="0.45">150</text>
<path d="M829.5 1563.7H844" stroke="#909090" stroke-width="3"/>
<text transform="translate(776.35 1575.8) scale(0.9808 1)" font-size="30.43" fill="#262626" stroke="#262626" stroke-width="0.45">100</text>
<path d="M829.5 1648.95H844" stroke="#909090" stroke-width="3"/>
<text transform="translate(792.97 1661.05) scale(0.9808 1)" font-size="30.43" fill="#262626" stroke="#262626" stroke-width="0.45">50</text>
<text transform="translate(809.58 1746.3) scale(0.9808 1)" font-size="30.43" fill="#262626" stroke="#262626" stroke-width="0.45">0</text>
<path d="M844.0 1734.2V1750.7" stroke="#909090" stroke-width="3"/>
<text fill="#262626" stroke="#262626" stroke-width="0.45"><tspan x="812.94" y="1776.9" font-size="31.15" textLength="29.91" lengthAdjust="spacingAndGlyphs">10</tspan><tspan x="843.79" y="1769.2" font-size="20.1" textLength="11.2" lengthAdjust="spacingAndGlyphs">0</tspan></text>
<path d="M956.7 1734.2V1750.7" stroke="#909090" stroke-width="3"/>
<text fill="#262626" stroke="#262626" stroke-width="0.45"><tspan x="925.64" y="1776.9" font-size="31.15" textLength="29.91" lengthAdjust="spacingAndGlyphs">10</tspan><tspan x="956.49" y="1769.2" font-size="20.1" textLength="11.2" lengthAdjust="spacingAndGlyphs">1</tspan></text>
<path d="M1069.4 1734.2V1750.7" stroke="#909090" stroke-width="3"/>
<text fill="#262626" stroke="#262626" stroke-width="0.45"><tspan x="1038.34" y="1776.9" font-size="31.15" textLength="29.91" lengthAdjust="spacingAndGlyphs">10</tspan><tspan x="1069.19" y="1769.2" font-size="20.1" textLength="11.2" lengthAdjust="spacingAndGlyphs">2</tspan></text>
<path d="M1182.1 1734.2V1750.7" stroke="#909090" stroke-width="3"/>
<text fill="#262626" stroke="#262626" stroke-width="0.45"><tspan x="1151.04" y="1776.9" font-size="31.15" textLength="29.91" lengthAdjust="spacingAndGlyphs">10</tspan><tspan x="1181.89" y="1769.2" font-size="20.1" textLength="11.2" lengthAdjust="spacingAndGlyphs">3</tspan></text>
<path d="M1294.8 1734.2V1750.7" stroke="#909090" stroke-width="3"/>
<text fill="#262626" stroke="#262626" stroke-width="0.45"><tspan x="1263.74" y="1776.9" font-size="31.15" textLength="29.91" lengthAdjust="spacingAndGlyphs">10</tspan><tspan x="1294.59" y="1769.2" font-size="20.1" textLength="11.2" lengthAdjust="spacingAndGlyphs">4</tspan></text>
<text transform="translate(781.2 1611.35) rotate(-90) scale(0.969 1)" font-size="29.86" fill="#262626" stroke="#262626" stroke-width="0.45">Counts</text>
<path d="M992.3 1540.5V1440.2H1294.8" fill="none" stroke="#8a8a8a" stroke-width="2.8"/>
<text transform="translate(1104.6 1489.2) scale(0.9451 1)" font-size="45.79" font-weight="bold" fill="#0c0c0c">8.02%</text>
<text transform="translate(846.36 1375.7) scale(0.9918 1)" font-size="41.61" font-weight="bold" fill="#0a0a0a">Si306</text>
</g>
<g id="p-b3">
<polygon points="1518.7,1733.7 1518.7,1709.9 1521.8,1719.0 1526.4,1726.6 1532.5,1722.1 1537.0,1723.6 1541.6,1714.4 1546.2,1719.0 1549.2,1703.8 1553.8,1694.6 1556.9,1676.3 1559.9,1654.9 1564.5,1627.5 1567.5,1612.2 1572.1,1578.7 1575.2,1563.4 1578.2,1526.8 1582.8,1523.7 1585.9,1484.1 1588.9,1462.7 1593.5,1445.9 1596.5,1453.6 1599.6,1433.7 1602.0,1453.6 1605.1,1447.5 1608.7,1499.3 1611.8,1470.3 1614.8,1502.4 1617.9,1542.0 1620.3,1563.4 1623.1,1545.1 1626.4,1563.4 1628.6,1584.8 1631.6,1581.7 1634.7,1577.1 1637.7,1603.1 1640.8,1600.0 1642.9,1621.4 1646.0,1610.7 1649.9,1630.5 1653.0,1633.6 1656.0,1624.4 1659.1,1636.6 1662.7,1627.5 1662.7,1627.5 1662.7,1733.7" fill="#808080"/>
<polyline points="1518.7,1709.9 1521.8,1719.0 1526.4,1726.6 1532.5,1722.1 1537.0,1723.6 1541.6,1714.4 1546.2,1719.0 1549.2,1703.8 1553.8,1694.6 1556.9,1676.3 1559.9,1654.9 1564.5,1627.5 1567.5,1612.2 1572.1,1578.7 1575.2,1563.4 1578.2,1526.8 1582.8,1523.7 1585.9,1484.1 1588.9,1462.7 1593.5,1445.9 1596.5,1453.6 1599.6,1433.7 1602.0,1453.6 1605.1,1447.5 1608.7,1499.3 1611.8,1470.3 1614.8,1502.4 1617.9,1542.0 1620.3,1563.4 1623.1,1545.1 1626.4,1563.4 1628.6,1584.8 1631.6,1581.7 1634.7,1577.1 1637.7,1603.1 1640.8,1600.0 1642.9,1621.4 1646.0,1610.7 1649.9,1630.5 1653.0,1633.6 1656.0,1624.4 1659.1,1636.6 1662.7,1627.5" fill="none" stroke="#2c2c2c" stroke-opacity="0.8" stroke-width="2.2" stroke-linejoin="miter"/>
<polygon points="1662.7,1733.7 1662.7,1664.1 1668.2,1662.6 1672.8,1671.7 1677.4,1676.3 1681.4,1688.5 1686.5,1671.7 1689.6,1694.6 1695.7,1700.7 1700.3,1687.0 1704.8,1705.3 1710.9,1716.0 1715.5,1712.9 1721.6,1725.1 1730.8,1722.1 1736.9,1728.2 1746.0,1726.6 1749.1,1731.2 1773.5,1732.7 1773.5,1733.7" fill="#00fc92"/>
<polyline points="1662.7,1664.1 1668.2,1662.6 1672.8,1671.7 1677.4,1676.3 1681.4,1688.5 1686.5,1671.7 1689.6,1694.6 1695.7,1700.7 1700.3,1687.0 1704.8,1705.3 1710.9,1716.0 1715.5,1712.9 1721.6,1725.1 1730.8,1722.1 1736.9,1728.2 1746.0,1726.6 1749.1,1731.2 1773.5,1732.7" fill="none" stroke="#08653f" stroke-width="1.7" stroke-dasharray="3 3"/>
<path d="M1516.6 1393.2H1967.6V1734.2" fill="none" stroke="#a2a2a2" stroke-width="2.6"/>
<path d="M1516.6 1734.2V1391.8M1502.1 1734.2H1969.0" fill="none" stroke="#8e8e8e" stroke-width="3"/>
<rect x="1515.1" y="1554.2" width="3" height="180.5" fill="#303030"/>
<path d="M1502.1 1393.2H1516.6" stroke="#909090" stroke-width="3"/>
<text transform="translate(1448.95 1404.2) scale(0.9808 1)" font-size="30.43" fill="#262626" stroke="#262626" stroke-width="0.45">200</text>
<path d="M1502.1 1478.45H1516.6" stroke="#909090" stroke-width="3"/>
<text transform="translate(1448.95 1490.55) scale(0.9808 1)" font-size="30.43" fill="#262626" stroke="#262626" stroke-width="0.45">150</text>
<path d="M1502.1 1563.7H1516.6" stroke="#909090" stroke-width="3"/>
<text transform="translate(1448.95 1575.8) scale(0.9808 1)" font-size="30.43" fill="#262626" stroke="#262626" stroke-width="0.45">100</text>
<path d="M1502.1 1648.95H1516.6" stroke="#909090" stroke-width="3"/>
<text transform="translate(1465.57 1661.05) scale(0.9808 1)" font-size="30.43" fill="#262626" stroke="#262626" stroke-width="0.45">50</text>
<text transform="translate(1482.18 1746.3) scale(0.9808 1)" font-size="30.43" fill="#262626" stroke="#262626" stroke-width="0.45">0</text>
<path d="M1516.6 1734.2V1750.7" stroke="#909090" stroke-width="3"/>
<text fill="#262626" stroke="#262626" stroke-width="0.45"><tspan x="1485.54" y="1776.9" font-size="31.15" textLength="29.91" lengthAdjust="spacingAndGlyphs">10</tspan><tspan x="1516.39" y="1769.2" font-size="20.1" textLength="11.2" lengthAdjust="spacingAndGlyphs">0</tspan></text>
<path d="M1629.35 1734.2V1750.7" stroke="#909090" stroke-width="3"/>
<text fill="#262626" stroke="#262626" stroke-width="0.45"><tspan x="1598.29" y="1776.9" font-size="31.15" textLength="29.91" lengthAdjust="spacingAndGlyphs">10</tspan><tspan x="1629.14" y="1769.2" font-size="20.1" textLength="11.2" lengthAdjust="spacingAndGlyphs">1</tspan></text>
<path d="M1742.1 1734.2V1750.7" stroke="#909090" stroke-width="3"/>
<text fill="#262626" stroke="#262626" stroke-width="0.45"><tspan x="1711.04" y="1776.9" font-size="31.15" textLength="29.91" lengthAdjust="spacingAndGlyphs">10</tspan><tspan x="1741.89" y="1769.2" font-size="20.1" textLength="11.2" lengthAdjust="spacingAndGlyphs">2</tspan></text>
<path d="M1854.85 1734.2V1750.7" stroke="#909090" stroke-width="3"/>
<text fill="#262626" stroke="#262626" stroke-width="0.45"><tspan x="1823.79" y="1776.9" font-size="31.15" textLength="29.91" lengthAdjust="spacingAndGlyphs">10</tspan><tspan x="1854.64" y="1769.2" font-size="20.1" textLength="11.2" lengthAdjust="spacingAndGlyphs">3</tspan></text>
<path d="M1967.6 1734.2V1750.7" stroke="#909090" stroke-width="3"/>
<text fill="#262626" stroke="#262626" stroke-width="0.45"><tspan x="1936.54" y="1776.9" font-size="31.15" textLength="29.91" lengthAdjust="spacingAndGlyphs">10</tspan><tspan x="1967.39" y="1769.2" font-size="20.1" textLength="11.2" lengthAdjust="spacingAndGlyphs">4</tspan></text>
<text transform="translate(1453.8 1611.35) rotate(-90) scale(0.969 1)" font-size="29.86" fill="#262626" stroke="#262626" stroke-width="0.45">Counts</text>
<path d="M1664.3 1540.5V1440.2H1967.6" fill="none" stroke="#8a8a8a" stroke-width="2.8"/>
<text transform="translate(1762.47 1489.2) scale(0.9408 1)" font-size="45.79" font-weight="bold" fill="#0c0c0c">12.09%</text>
<text transform="translate(1524.63 1375.7) scale(0.9983 1)" font-size="41.61" font-weight="bold" fill="#0a0a0a">pro-Si306</text>
</g>
<g id="p-b4">
<polygon points="259.5,2187.1 259.5,2186.2 291.5,2183.8 303.7,2179.2 312.9,2176.1 320.5,2168.5 326.6,2173.1 331.8,2159.3 335.8,2162.4 341.9,2150.2 346.5,2147.1 349.5,2138.0 354.1,2131.9 358.7,2104.4 363.2,2098.3 366.3,2077.0 370.9,2066.3 375.4,2028.1 378.5,2015.9 381.5,1982.4 386.1,1980.9 389.8,1965.6 399.8,1965.6 403.8,1973.2 405.0,1994.6 409.0,2006.8 412.1,2031.2 416.6,2058.7 421.2,2080.0 425.8,2113.6 430.4,2134.9 431.9,2147.1 431.9,2147.1 431.9,2187.1" fill="#808080"/>
<polyline points="259.5,2186.2 291.5,2183.8 303.7,2179.2 312.9,2176.1 320.5,2168.5 326.6,2173.1 331.8,2159.3 335.8,2162.4 341.9,2150.2 346.5,2147.1 349.5,2138.0 354.1,2131.9 358.7,2104.4 363.2,2098.3 366.3,2077.0 370.9,2066.3 375.4,2028.1 378.5,2015.9 381.5,1982.4 386.1,1980.9 389.8,1965.6 399.8,1965.6 403.8,1973.2 405.0,1994.6 409.0,2006.8 412.1,2031.2 416.6,2058.7 421.2,2080.0 425.8,2113.6 430.4,2134.9 431.9,2147.1" fill="none" stroke="#2c2c2c" stroke-opacity="0.8" stroke-width="2.2" stroke-linejoin="miter"/>
<polygon points="431.9,2187.1 431.9,2148.7 436.5,2156.3 441.0,2162.4 447.1,2168.5 456.3,2176.1 465.4,2180.7 477.7,2183.8 492.9,2186.2 505.1,2186.8 505.1,2187.1" fill="#00fc92"/>
<polyline points="431.9,2148.7 436.5,2156.3 441.0,2162.4 447.1,2168.5 456.3,2176.1 465.4,2180.7 477.7,2183.8 492.9,2186.2 505.1,2186.8" fill="none" stroke="#08653f" stroke-width="1.7" stroke-dasharray="3 3"/>
<path d="M213.6 1845H664.7V2187.6" fill="none" stroke="#a2a2a2" stroke-width="2.6"/>
<path d="M213.6 2187.6V1843.6M199.1 2187.6H666.1" fill="none" stroke="#8e8e8e" stroke-width="3"/>
<path d="M199.1 1845.0H213.6" stroke="#909090" stroke-width="3"/>
<text transform="translate(145.95 1856.0) scale(0.9808 1)" font-size="30.43" fill="#262626" stroke="#262626" stroke-width="0.45">800</text>
<path d="M199.1 1930.65H213.6" stroke="#909090" stroke-width="3"/>
<text transform="translate(145.95 1942.75) scale(0.9808 1)" font-size="30.43" fill="#262626" stroke="#262626" stroke-width="0.45">600</text>
<path d="M199.1 2016.3H213.6" stroke="#909090" stroke-width="3"/>
<text transform="translate(145.95 2028.4) scale(0.9808 1)" font-size="30.43" fill="#262626" stroke="#262626" stroke-width="0.45">400</text>
<path d="M199.1 2101.95H213.6" stroke="#909090" stroke-width="3"/>
<text transform="translate(145.95 2114.05) scale(0.9808 1)" font-size="30.43" fill="#262626" stroke="#262626" stroke-width="0.45">200</text>
<text transform="translate(179.18 2199.7) scale(0.9808 1)" font-size="30.43" fill="#262626" stroke="#262626" stroke-width="0.45">0</text>
<path d="M213.6 2187.6V2204.1" stroke="#909090" stroke-width="3"/>
<text fill="#262626" stroke="#262626" stroke-width="0.45"><tspan x="182.54" y="2230.3" font-size="31.15" textLength="29.91" lengthAdjust="spacingAndGlyphs">10</tspan><tspan x="213.39" y="2222.6" font-size="20.1" textLength="11.2" lengthAdjust="spacingAndGlyphs">0</tspan></text>
<path d="M326.38 2187.6V2204.1" stroke="#909090" stroke-width="3"/>
<text fill="#262626" stroke="#262626" stroke-width="0.45"><tspan x="295.31" y="2230.3" font-size="31.15" textLength="29.91" lengthAdjust="spacingAndGlyphs">10</tspan><tspan x="326.17" y="2222.6" font-size="20.1" textLength="11.2" lengthAdjust="spacingAndGlyphs">1</tspan></text>
<path d="M439.15 2187.6V2204.1" stroke="#909090" stroke-width="3"/>
<text fill="#262626" stroke="#262626" stroke-width="0.45"><tspan x="408.09" y="2230.3" font-size="31.15" textLength="29.91" lengthAdjust="spacingAndGlyphs">10</tspan><tspan x="438.94" y="2222.6" font-size="20.1" textLength="11.2" lengthAdjust="spacingAndGlyphs">2</tspan></text>
<path d="M551.93 2187.6V2204.1" stroke="#909090" stroke-width="3"/>
<text fill="#262626" stroke="#262626" stroke-width="0.45"><tspan x="520.86" y="2230.3" font-size="31.15" textLength="29.91" lengthAdjust="spacingAndGlyphs">10</tspan><tspan x="551.72" y="2222.6" font-size="20.1" textLength="11.2" lengthAdjust="spacingAndGlyphs">3</tspan></text>
<path d="M664.7 2187.6V2204.1" stroke="#909090" stroke-width="3"/>
<text fill="#262626" stroke="#262626" stroke-width="0.45"><tspan x="633.64" y="2230.3" font-size="31.15" textLength="29.91" lengthAdjust="spacingAndGlyphs">10</tspan></text>
<text transform="translate(664.1 2223.6) scale(0.93 1)" font-size="20" fill="#262626" stroke="#262626" stroke-width="0.3" clip-path="url(#cl4)">4</text>
<text transform="translate(150.8 2063.95) rotate(-90) scale(0.969 1)" font-size="29.86" fill="#262626" stroke="#262626" stroke-width="0.45">Counts</text>
<path d="M434 1980.9V1880.3H664.7" fill="none" stroke="#8a8a8a" stroke-width="2.8"/>
<text transform="translate(473.9 1932.6) scale(0.9498 1)" font-size="45.79" font-weight="bold" fill="#0c0c0c">5.27%</text>
</g>
<g id="p-b5">
<polygon points="910.9,2187.1 910.9,2186.2 936.8,2183.8 958.1,2181.3 970.4,2178.3 981.0,2176.1 987.1,2167.0 990.2,2170.0 994.8,2164.8 1000.9,2163.9 1005.4,2153.2 1010.0,2147.1 1014.6,2134.9 1019.2,2125.8 1022.8,2110.5 1026.8,2086.1 1029.8,2067.8 1032.9,2052.6 1035.9,2043.4 1039.0,2009.8 1042.1,1997.6 1046.6,1973.2 1049.7,1968.6 1052.7,1935.1 1056.4,1933.6 1059.4,1945.8 1061.9,1942.7 1061.9,1942.7 1061.9,2187.1" fill="#808080"/>
<polyline points="910.9,2186.2 936.8,2183.8 958.1,2181.3 970.4,2178.3 981.0,2176.1 987.1,2167.0 990.2,2170.0 994.8,2164.8 1000.9,2163.9 1005.4,2153.2 1010.0,2147.1 1014.6,2134.9 1019.2,2125.8 1022.8,2110.5 1026.8,2086.1 1029.8,2067.8 1032.9,2052.6 1035.9,2043.4 1039.0,2009.8 1042.1,1997.6 1046.6,1973.2 1049.7,1968.6 1052.7,1935.1 1056.4,1933.6 1059.4,1945.8 1061.9,1942.7" fill="none" stroke="#2c2c2c" stroke-opacity="0.8" stroke-width="2.2" stroke-linejoin="miter"/>
<polygon points="1061.9,2187.1 1061.9,1961.0 1064.9,1971.7 1069.5,1973.2 1072.6,2000.7 1075.6,2022.0 1078.7,2046.5 1081.7,2070.9 1084.8,2092.2 1089.3,2113.6 1092.4,2131.9 1097.0,2144.1 1101.5,2156.3 1106.1,2165.4 1112.2,2171.5 1119.9,2177.7 1129.0,2181.3 1141.2,2184.4 1156.5,2186.2 1174.8,2186.8 1174.8,2187.1" fill="#00fc92"/>
<polyline points="1061.9,1961.0 1064.9,1971.7 1069.5,1973.2 1072.6,2000.7 1075.6,2022.0 1078.7,2046.5 1081.7,2070.9 1084.8,2092.2 1089.3,2113.6 1092.4,2131.9 1097.0,2144.1 1101.5,2156.3 1106.1,2165.4 1112.2,2171.5 1119.9,2177.7 1129.0,2181.3 1141.2,2184.4 1156.5,2186.2 1174.8,2186.8" fill="none" stroke="#08653f" stroke-width="1.7" stroke-dasharray="3 3"/>
<path d="M844 1845H1294.8V2187.6" fill="none" stroke="#a2a2a2" stroke-width="2.6"/>
<path d="M844 2187.6V1843.6M829.5 2187.6H1296.2" fill="none" stroke="#8e8e8e" stroke-width="3"/>
<path d="M829.5 1845.0H844" stroke="#909090" stroke-width="3"/>
<text transform="translate(776.35 1856.0) scale(0.9808 1)" font-size="30.43" fill="#262626" stroke="#262626" stroke-width="0.45">800</text>
<path d="M829.5 1930.65H844" stroke="#909090" stroke-width="3"/>
<text transform="translate(776.35 1942.75) scale(0.9808 1)" font-size="30.43" fill="#262626" stroke="#262626" stroke-width="0.45">600</text>
<path d="M829.5 2016.3H844" stroke="#909090" stroke-width="3"/>
<text transform="translate(776.35 2028.4) scale(0.9808 1)" font-size="30.43" fill="#262626" stroke="#262626" stroke-width="0.45">400</text>
<path d="M829.5 2101.95H844" stroke="#909090" stroke-width="3"/>
<text transform="translate(776.35 2114.05) scale(0.9808 1)" font-size="30.43" fill="#262626" stroke="#262626" stroke-width="0.45">200</text>
<text transform="translate(809.58 2199.7) scale(0.9808 1)" font-size="30.43" fill="#262626" stroke="#262626" stroke-width="0.45">0</text>
<path d="M844.0 2187.6V2204.1" stroke="#909090" stroke-width="3"/>
<text fill="#262626" stroke="#262626" stroke-width="0.45"><tspan x="812.94" y="2230.3" font-size="31.15" textLength="29.91" lengthAdjust="spacingAndGlyphs">10</tspan><tspan x="843.79" y="2222.6" font-size="20.1" textLength="11.2" lengthAdjust="spacingAndGlyphs">0</tspan></text>
<path d="M956.7 2187.6V2204.1" stroke="#909090" stroke-width="3"/>
<text fill="#262626" stroke="#262626" stroke-width="0.45"><tspan x="925.64" y="2230.3" font-size="31.15" textLength="29.91" lengthAdjust="spacingAndGlyphs">10</tspan><tspan x="956.49" y="2222.6" font-size="20.1" textLength="11.2" lengthAdjust="spacingAndGlyphs">1</tspan></text>
<path d="M1069.4 2187.6V2204.1" stroke="#909090" stroke-width="3"/>
<text fill="#262626" stroke="#262626" stroke-width="0.45"><tspan x="1038.34" y="2230.3" font-size="31.15" textLength="29.91" lengthAdjust="spacingAndGlyphs">10</tspan><tspan x="1069.19" y="2222.6" font-size="20.1" textLength="11.2" lengthAdjust="spacingAndGlyphs">2</tspan></text>
<path d="M1182.1 2187.6V2204.1" stroke="#909090" stroke-width="3"/>
<text fill="#262626" stroke="#262626" stroke-width="0.45"><tspan x="1151.04" y="2230.3" font-size="31.15" textLength="29.91" lengthAdjust="spacingAndGlyphs">10</tspan><tspan x="1181.89" y="2222.6" font-size="20.1" textLength="11.2" lengthAdjust="spacingAndGlyphs">3</tspan></text>
<path d="M1294.8 2187.6V2204.1" stroke="#909090" stroke-width="3"/>
<text fill="#262626" stroke="#262626" stroke-width="0.45"><tspan x="1263.74" y="2230.3" font-size="31.15" textLength="29.91" lengthAdjust="spacingAndGlyphs">10</tspan><tspan x="1294.59" y="2222.6" font-size="20.1" textLength="11.2" lengthAdjust="spacingAndGlyphs">4</tspan></text>
<text transform="translate(781.2 2063.95) rotate(-90) scale(0.969 1)" font-size="29.86" fill="#262626" stroke="#262626" stroke-width="0.45">Counts</text>
<path d="M1064.9 1998V1880.3H1294.8" fill="none" stroke="#8a8a8a" stroke-width="2.8"/>
<text transform="translate(1111.49 1932.6) scale(0.9452 1)" font-size="45.79" font-weight="bold" fill="#0c0c0c">35.91%</text>
</g>
<g id="p-b6">
<polygon points="1564.5,2187.1 1564.5,2186.2 1596.5,2184.4 1614.8,2182.2 1627.0,2177.7 1636.2,2177.7 1642.3,2174.6 1649.9,2168.5 1654.5,2171.5 1660.6,2165.4 1665.2,2154.8 1671.3,2147.1 1675.9,2138.0 1678.9,2119.7 1683.5,2107.5 1686.5,2095.3 1691.1,2070.9 1694.2,2052.6 1698.7,2031.2 1701.8,2003.7 1706.4,1982.4 1709.4,1965.6 1713.1,1945.8 1716.4,1935.1 1720.1,1954.9 1723.2,1958.0 1727.1,1947.3 1730.2,1970.2 1732.3,2000.7 1734.4,2015.9 1734.4,2015.9 1734.4,2187.1" fill="#808080"/>
<polyline points="1564.5,2186.2 1596.5,2184.4 1614.8,2182.2 1627.0,2177.7 1636.2,2177.7 1642.3,2174.6 1649.9,2168.5 1654.5,2171.5 1660.6,2165.4 1665.2,2154.8 1671.3,2147.1 1675.9,2138.0 1678.9,2119.7 1683.5,2107.5 1686.5,2095.3 1691.1,2070.9 1694.2,2052.6 1698.7,2031.2 1701.8,2003.7 1706.4,1982.4 1709.4,1965.6 1713.1,1945.8 1716.4,1935.1 1720.1,1954.9 1723.2,1958.0 1727.1,1947.3 1730.2,1970.2 1732.3,2000.7 1734.4,2015.9" fill="none" stroke="#2c2c2c" stroke-opacity="0.8" stroke-width="2.2" stroke-linejoin="miter"/>
<polygon points="1734.4,2187.1 1734.4,2037.3 1738.4,2043.4 1741.5,2064.8 1746.0,2089.2 1749.1,2110.5 1753.7,2122.7 1756.7,2141.0 1761.3,2156.3 1767.4,2163.9 1773.5,2171.5 1779.6,2177.7 1791.8,2181.3 1804.0,2185.3 1834.5,2186.8 1834.5,2187.1" fill="#00fc92"/>
<polyline points="1734.4,2037.3 1738.4,2043.4 1741.5,2064.8 1746.0,2089.2 1749.1,2110.5 1753.7,2122.7 1756.7,2141.0 1761.3,2156.3 1767.4,2163.9 1773.5,2171.5 1779.6,2177.7 1791.8,2181.3 1804.0,2185.3 1834.5,2186.8" fill="none" stroke="#08653f" stroke-width="1.7" stroke-dasharray="3 3"/>
<path d="M1517.2 1845H1967.6V2187.6" fill="none" stroke="#a2a2a2" stroke-width="2.6"/>
<path d="M1517.2 2187.6V1843.6M1502.7 2187.6H1969.0" fill="none" stroke="#8e8e8e" stroke-width="3"/>
<path d="M1502.7 1845.0H1517.2" stroke="#909090" stroke-width="3"/>
<text transform="translate(1449.55 1856.0) scale(0.9808 1)" font-size="30.43" fill="#262626" stroke="#262626" stroke-width="0.45">800</text>
<path d="M1502.7 1930.65H1517.2" stroke="#909090" stroke-width="3"/>
<text transform="translate(1449.55 1942.75) scale(0.9808 1)" font-size="30.43" fill="#262626" stroke="#262626" stroke-width="0.45">600</text>
<path d="M1502.7 2016.3H1517.2" stroke="#909090" stroke-width="3"/>
<text transform="translate(1449.55 2028.4) scale(0.9808 1)" font-size="30.43" fill="#262626" stroke="#262626" stroke-width="0.45">400</text>
<path d="M1502.7 2101.95H1517.2" stroke="#909090" stroke-width="3"/>
<text transform="translate(1449.55 2114.05) scale(0.9808 1)" font-size="30.43" fill="#262626" stroke="#262626" stroke-width="0.45">200</text>
<text transform="translate(1482.78 2199.7) scale(0.9808 1)" font-size="30.43" fill="#262626" stroke="#262626" stroke-width="0.45">0</text>
<path d="M1517.2 2187.6V2204.1" stroke="#909090" stroke-width="3"/>
<text fill="#262626" stroke="#262626" stroke-width="0.45"><tspan x="1486.14" y="2230.3" font-size="31.15" textLength="29.91" lengthAdjust="spacingAndGlyphs">10</tspan><tspan x="1516.99" y="2222.6" font-size="20.1" textLength="11.2" lengthAdjust="spacingAndGlyphs">0</tspan></text>
<path d="M1629.8 2187.6V2204.1" stroke="#909090" stroke-width="3"/>
<text fill="#262626" stroke="#262626" stroke-width="0.45"><tspan x="1598.74" y="2230.3" font-size="31.15" textLength="29.91" lengthAdjust="spacingAndGlyphs">10</tspan><tspan x="1629.59" y="2222.6" font-size="20.1" textLength="11.2" lengthAdjust="spacingAndGlyphs">1</tspan></text>
<path d="M1742.4 2187.6V2204.1" stroke="#909090" stroke-width="3"/>
<text fill="#262626" stroke="#262626" stroke-width="0.45"><tspan x="1711.34" y="2230.3" font-size="31.15" textLength="29.91" lengthAdjust="spacingAndGlyphs">10</tspan><tspan x="1742.19" y="2222.6" font-size="20.1" textLength="11.2" lengthAdjust="spacingAndGlyphs">2</tspan></text>
<path d="M1855.0 2187.6V2204.1" stroke="#909090" stroke-width="3"/>
<text fill="#262626" stroke="#262626" stroke-width="0.45"><tspan x="1823.94" y="2230.3" font-size="31.15" textLength="29.91" lengthAdjust="spacingAndGlyphs">10</tspan><tspan x="1854.79" y="2222.6" font-size="20.1" textLength="11.2" lengthAdjust="spacingAndGlyphs">3</tspan></text>
<path d="M1967.6 2187.6V2204.1" stroke="#909090" stroke-width="3"/>
<text fill="#262626" stroke="#262626" stroke-width="0.45"><tspan x="1936.54" y="2230.3" font-size="31.15" textLength="29.91" lengthAdjust="spacingAndGlyphs">10</tspan><tspan x="1967.39" y="2222.6" font-size="20.1" textLength="11.2" lengthAdjust="spacingAndGlyphs">4</tspan></text>
<text transform="translate(1454.4 2063.95) rotate(-90) scale(0.969 1)" font-size="29.86" fill="#262626" stroke="#262626" stroke-width="0.45">Counts</text>
<path d="M1736.9 1980.9V1880.3H1967.6" fill="none" stroke="#8a8a8a" stroke-width="2.8"/>
<text transform="translate(1785.85 1932.6) scale(0.9474 1)" font-size="45.79" font-weight="bold" fill="#0c0c0c">19.54%</text>
</g>
<text transform="translate(72.0 1664.24) rotate(-90) scale(0.9753 1)" font-size="57.42" font-weight="bold">GBM-6</text>
<text transform="translate(72.0 2070.93) rotate(-90) scale(0.9656 1)" font-size="57.42" font-weight="bold">U87</text>
<path d="M514 2292.6H1622" stroke="#000" stroke-width="7.7"/>
<path d="M1680 2292.6L1597 2271L1615 2292.6L1597 2314Z" fill="#000"/>
<text><tspan x="599.35" y="2370.2" font-size="57.09" textLength="124.99" lengthAdjust="spacingAndGlyphs" font-weight="bold">DHR</tspan> <tspan x="744.56" y="2370.2" font-size="56.96" textLength="348.29" lengthAdjust="spacingAndGlyphs" font-weight="bold">fluorescence</tspan> <tspan x="1111.48" y="2370.2" font-size="56.96" textLength="236.11" lengthAdjust="spacingAndGlyphs" font-weight="bold">intensity</tspan></text>
<text><tspan x="943.79" y="2530.4" font-size="116.39" textLength="33.86" lengthAdjust="spacingAndGlyphs" font-family='"Liberation Serif", "Times New Roman", serif'>(</tspan><tspan x="977.22" y="2534.9" font-size="126.06" textLength="70.27" lengthAdjust="spacingAndGlyphs" font-weight="bold" font-family='"Liberation Serif", "Times New Roman", serif'>b</tspan><tspan x="1050.33" y="2530.4" font-size="116.39" textLength="35.68" lengthAdjust="spacingAndGlyphs" font-family='"Liberation Serif", "Times New Roman", serif'>)</tspan></text>
<rect x="507.3" y="3141.8" width="117.0" height="462.2" fill="#000"/>
<rect x="532.7" y="3130.3" width="66.4" height="20" rx="2.5" fill="#000"/>
<rect x="675.6" y="2783.1" width="110.3" height="818.9" fill="#d4d4d4" stroke="#a4a4a8" stroke-width="6"/>
<path d="M703.1 2759.9H758.4M730.75 2759.9V2784" stroke="#000" stroke-width="11.4" stroke-linecap="round" fill="none"/>
<text transform="translate(701.82 2731.41) scale(1.0181 1)" font-size="54.04" font-weight="bold">***</text>
<rect x="838.7" y="2802.9" width="115.1" height="799.1" fill="#808080" stroke="#8f8f8f" stroke-width="2"/>
<path d="M868.2 2783.2H924.3M896.25 2783.2V2805" stroke="#000" stroke-width="11.4" stroke-linecap="round" fill="none"/>
<text transform="translate(865.01 2754.31) scale(1.0308 1)" font-size="54.04" font-weight="bold">***</text>
<rect x="1113" y="3141.8" width="117.3" height="462.2" fill="#000"/>
<rect x="1138.8" y="3132.6" width="66.4" height="20" rx="2.5" fill="#000"/>
<rect x="1282.3" y="2946.1" width="110.1" height="655.9" fill="#d4d4d4" stroke="#a4a4a8" stroke-width="6"/>
<path d="M1310.4 2935.4H1365.8M1338.1 2935.4V2945" stroke="#000" stroke-width="11.4" stroke-linecap="round" fill="none"/>
<text transform="translate(1307.21 2904.45) scale(1.0593 1)" font-size="53.23" font-weight="bold">***</text>
<rect x="1446.2" y="2885.0" width="114.0" height="717.0" fill="#808080" stroke="#8f8f8f" stroke-width="2"/>
<path d="M1475.2 2876H1530.5M1502.85 2876V2887" stroke="#000" stroke-width="11.4" stroke-linecap="round" fill="none"/>
<text transform="translate(1472.32 2839.04) scale(1.0061 1)" font-size="55.11" font-weight="bold">***</text>
<path d="M428.7 2681.5V3604" stroke="#000" stroke-width="7.8" fill="none"/>
<path d="M413.6 3604H1644" stroke="#000" stroke-width="8" fill="none"/>
<path d="M413.6 3374.45H428.7" stroke="#000" stroke-width="6.5"/>
<path d="M413.6 3144.9H428.7" stroke="#000" stroke-width="6.5"/>
<path d="M413.6 2915.35H428.7" stroke="#000" stroke-width="6.5"/>
<path d="M413.6 2685.8H428.7" stroke="#000" stroke-width="6.5"/>
<text transform="translate(380.23 3622.4) scale(0.9116 1)" font-size="56.84" font-weight="bold">0</text>
<text transform="translate(348.88 3392.85) scale(0.9527 1)" font-size="56.84" font-weight="bold">50</text>
<text transform="translate(316.48 3163.3) scale(0.977 1)" font-size="56.84" font-weight="bold">100</text>
<text transform="translate(316.48 2933.75) scale(0.977 1)" font-size="56.84" font-weight="bold">150</text>
<text transform="translate(316.45 2704.2) scale(0.9773 1)" font-size="56.84" font-weight="bold">200</text>
<path d="M731.2 3604V3618.5" stroke="#000" stroke-width="7"/>
<path d="M1337.2 3604V3618.5" stroke="#000" stroke-width="7"/>
<text transform="translate(594.6 3820.4) rotate(-45) scale(1.05 1)" font-size="63" font-weight="bold" stroke="#fff" stroke-width="0.6">GBM-6</text>
<text transform="translate(1264.9 3756.7) rotate(-45) scale(1.05 1)" font-size="63" font-weight="bold" stroke="#fff" stroke-width="0.6">U87</text>
<text transform="translate(125.6 3193.66) rotate(-90) scale(0.896 1)" font-size="71.2" font-weight="bold">JC1</text>
<text transform="rotate(-90)"><tspan x="-3407.01" y="206.6" font-size="68.85" textLength="264.88" lengthAdjust="spacingAndGlyphs" font-weight="bold">FL1/FL2</tspan> <tspan x="-3120.93" y="206.6" font-size="68.85" textLength="143.99" lengthAdjust="spacingAndGlyphs" font-weight="bold">ratio</tspan> <tspan x="-2956.44" y="206.6" font-size="68.85" textLength="102.69" lengthAdjust="spacingAndGlyphs" font-weight="bold">[%]</tspan></text>
<rect x="1683" y="2809.6" width="55" height="48.5" rx="5" fill="#000"/>
<rect x="1687" y="2881" width="48" height="40.5" rx="2" fill="#d4d4d4" stroke="#a4a4a8" stroke-width="5.5"/>
<rect x="1685" y="2946.4" width="52" height="44.4" rx="3" fill="#808080"/>
<text transform="translate(1760.38 2852.2) scale(0.9685 1)" font-size="49.63" font-weight="bold">control</text>
<text transform="translate(1760.86 2919.5) scale(0.9719 1)" font-size="49.49" font-weight="bold">Si306</text>
<text transform="translate(1756.86 2982.5) scale(1.0057 1)" font-size="49.77" font-weight="bold">pro-Si306</text>
<text><tspan x="946.84" y="3915.5" font-size="121.15" textLength="35.03" lengthAdjust="spacingAndGlyphs" font-family='"Liberation Serif", "Times New Roman", serif'>(</tspan><tspan x="981.46" y="3917.3" font-size="124.26" textLength="51.2" lengthAdjust="spacingAndGlyphs" font-weight="bold" font-family='"Liberation Serif", "Times New Roman", serif'>c</tspan><tspan x="1033.92" y="3915.5" font-size="121.15" textLength="34.77" lengthAdjust="spacingAndGlyphs" font-family='"Liberation Serif", "Times New Roman", serif'>)</tspan></text>
</g>
</svg>
</body></html>
